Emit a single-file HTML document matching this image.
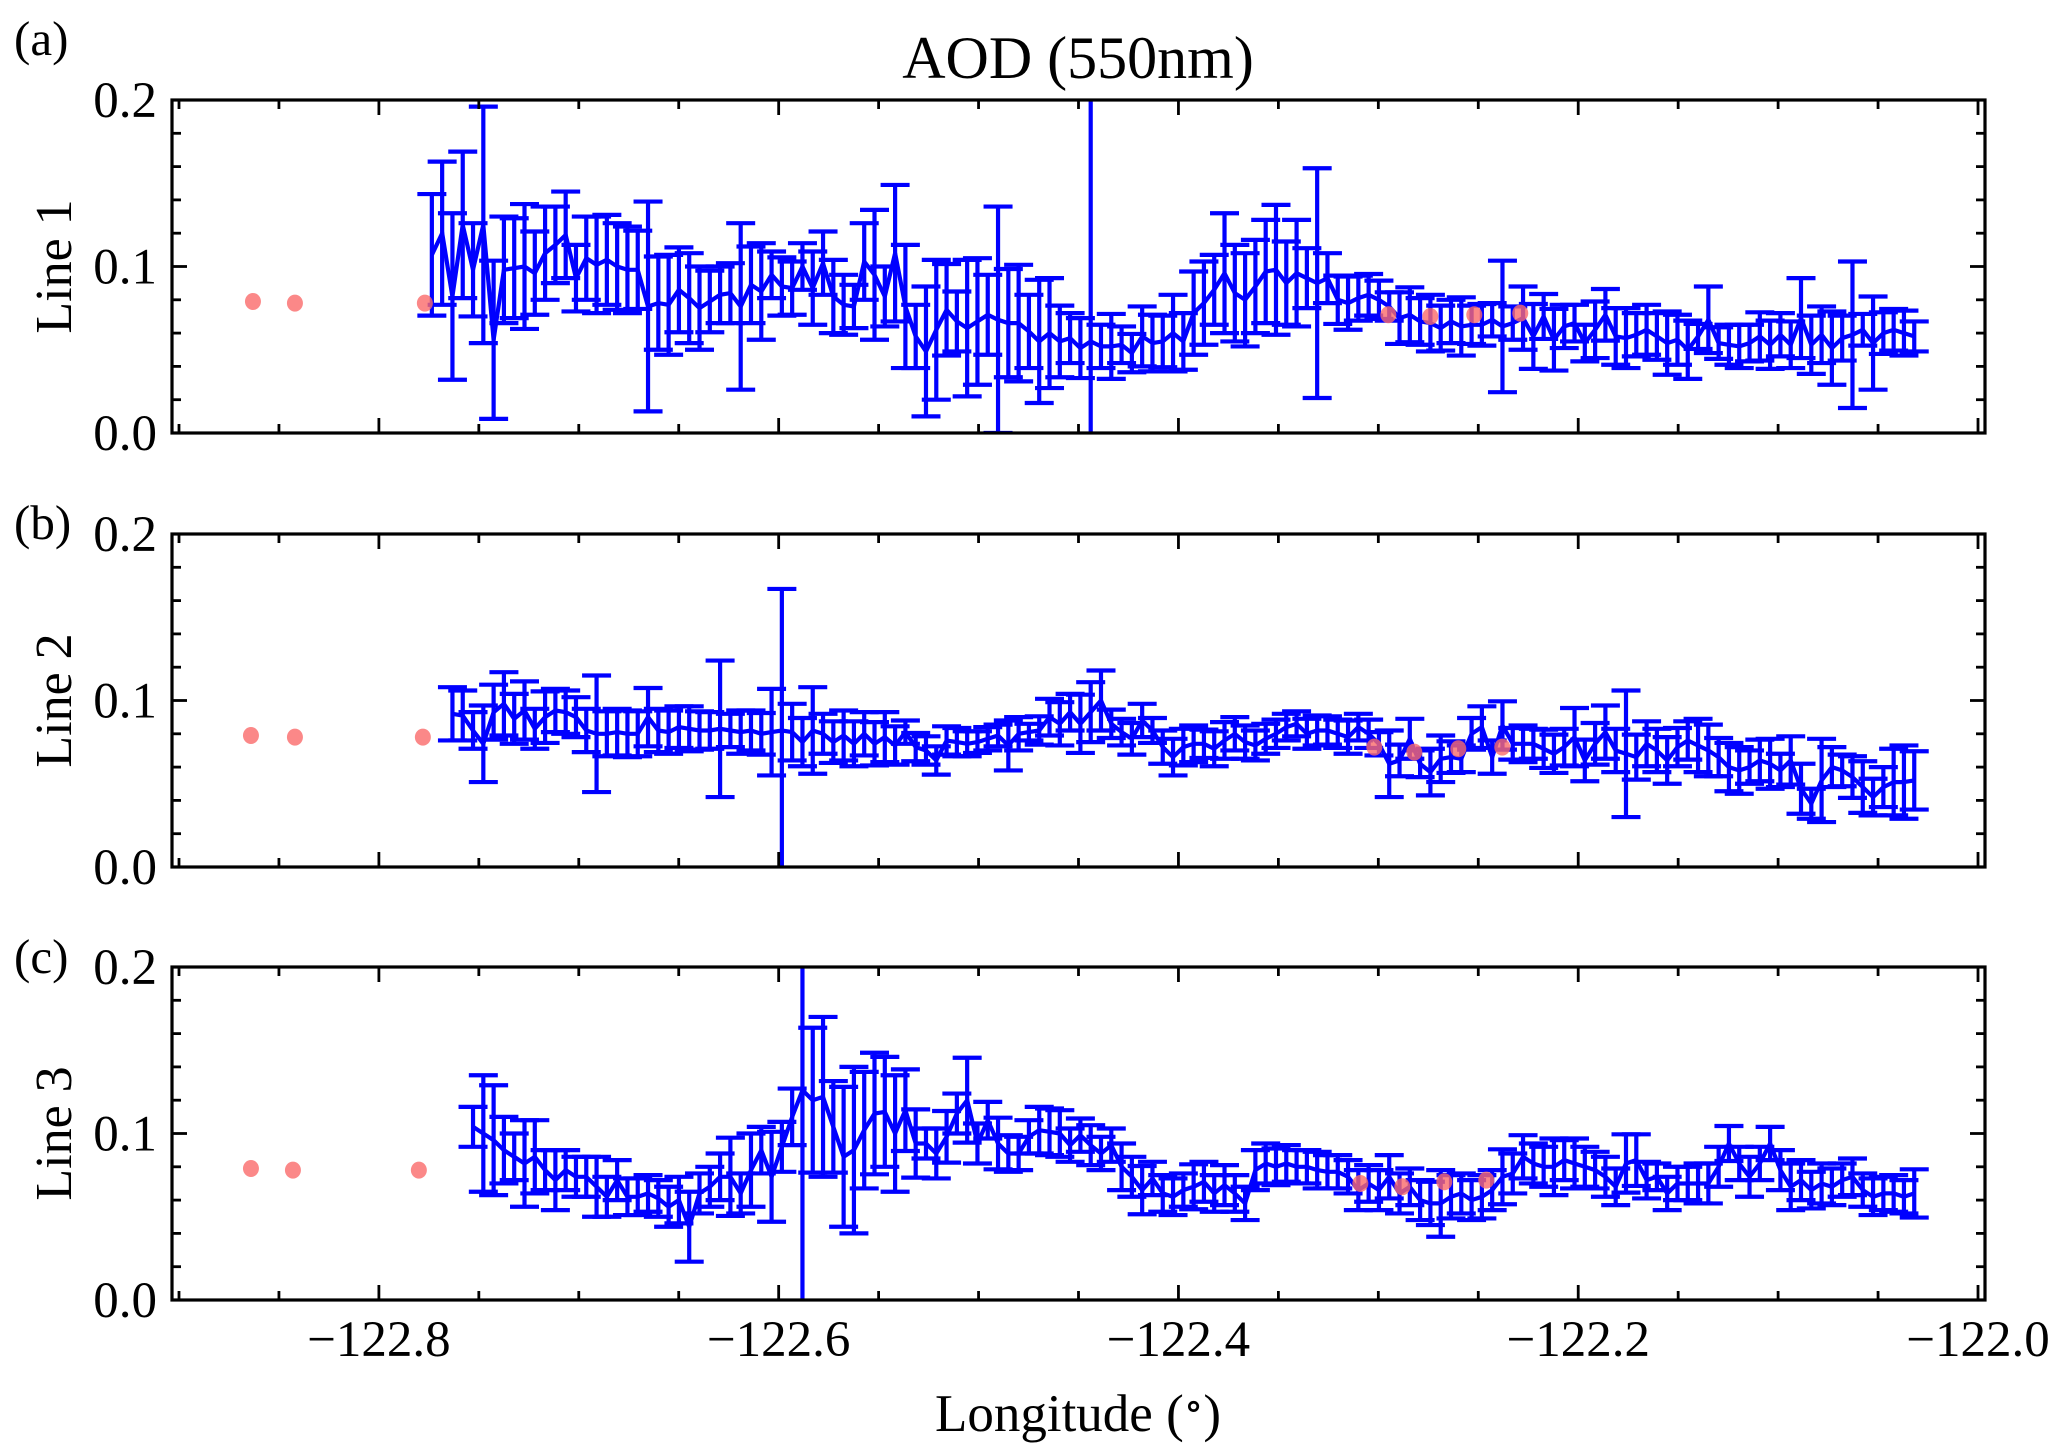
<!DOCTYPE html>
<html>
<head>
<meta charset="utf-8">
<style>
  html, body { margin: 0; padding: 0; background: #fff; }
  svg { display: block; font-family: "Liberation Serif", "DejaVu Serif", serif; }
</style>
</head>
<body>
<svg id="chart" width="2066" height="1443" viewBox="0 0 2066 1443" xmlns="http://www.w3.org/2000/svg">
  <rect x="0" y="0" width="2066" height="1443" fill="#fff"/>
  <text x="1078" y="78" font-size="60" text-anchor="middle">AOD (550nm)</text>
  <text x="1078" y="1431" font-size="53" text-anchor="middle">Longitude (<tspan font-size="40" baseline-shift="12">∘</tspan>)</text>
  <g id="panels"></g>
</svg>
<script>
// ---- data ----
const lonStart = -122.7735;
const lonStep = 0.00515;
const xTicks = [-122.8, -122.6, -122.4, -122.2, -122.0];
const xTickLabels = ["\u2212122.8", "\u2212122.6", "\u2212122.4", "\u2212122.2", "\u2212122.0"];
const yTicks = [0.0, 0.1, 0.2];
const yTickLabels = ["0.0", "0.1", "0.2"];
const panelNames = ["Line 1", "Line 2", "Line 3"];
const panelTags = ["(a)", "(b)", "(c)"];
const startIndex = [0, 2, 4];

const mean1 = [0.107,0.120,0.082,0.125,0.098,0.125,0.056,0.098,0.099,0.100,
0.096,0.108,0.113,0.119,0.093,0.105,0.101,0.104,0.100,0.098,
0.098,0.076,0.078,0.077,0.086,0.081,0.075,0.079,0.083,0.084,
0.076,0.089,0.085,0.095,0.088,0.087,0.100,0.087,0.102,0.082,
0.077,0.076,0.103,0.095,0.082,0.108,0.076,0.058,0.049,0.062,
0.074,0.067,0.063,0.067,0.071,0.068,0.066,0.066,0.061,0.055,
0.060,0.055,0.057,0.051,0.055,0.052,0.052,0.053,0.048,0.058,
0.054,0.055,0.060,0.055,0.072,
0.078,0.086,0.096,0.084,0.080,0.088,0.097,0.098,0.090,0.096,
0.093,0.090,0.093,0.080,0.078,0.081,0.083,0.080,0.076,0.069,
0.071,0.067,0.066,0.063,0.067,0.064,0.065,0.065,0.068,0.064,
0.066,0.069,0.058,0.070,0.056,0.064,0.066,0.054,0.062,0.071,
0.058,0.057,0.059,0.062,0.058,0.054,0.056,0.050,0.058,0.068,
0.054,0.053,0.052,0.054,0.058,0.053,0.059,0.053,0.069,0.053,
0.059,0.051,0.057,0.059,0.062,0.054,0.060,0.062,0.060,0.058];
const err1 = [0.0365,0.043,0.050,0.044,0.028,0.071,0.0475,0.032,0.030,0.0375,
0.025,0.028,0.023,0.026,0.020,0.025,0.029,0.027,0.026,0.026,
0.0235,0.063,0.028,0.030,0.0255,0.027,0.025,0.0185,0.017,0.018,
0.050,0.023,0.029,0.014,0.0175,0.016,0.014,0.022,0.019,0.022,
0.018,0.013,0.023,0.039,0.018,0.041,0.037,0.019,0.039,0.042,
0.0275,0.018,0.041,0.038,0.024,0.068,0.0325,0.035,0.022,0.037,
0.033,0.0215,0.015,0.018,0.16,0.013,0.0195,0.011,0.0115,0.018,
0.017,0.0155,0.023,0.017,0.025,
0.025,0.021,0.036,0.029,0.028,0.028,0.031,0.039,0.025,0.032,
0.018,0.069,0.015,0.0145,0.016,0.0135,0.0125,0.0115,0.0085,0.0155,
0.0165,0.014,0.017,0.0135,0.013,0.0175,0.0115,0.0125,0.010,0.0395,
0.010,0.019,0.0195,0.0135,0.0185,0.013,0.011,0.011,0.017,0.0155,
0.017,0.018,0.013,0.015,0.014,0.019,0.015,0.0175,0.0075,0.020,
0.0095,0.012,0.013,0.011,0.0145,0.0145,0.013,0.014,0.024,0.0175,
0.017,0.022,0.0135,0.044,0.0095,0.028,0.0125,0.0125,0.0135,0.009];

const mean2 = [0.092,0.091,0.082,0.074,0.093,0.098,0.089,0.094,0.083,0.090,
0.094,0.093,0.090,0.082,0.080,0.080,0.081,0.080,0.080,0.090,
0.082,0.081,0.084,0.083,0.082,0.082,0.083,0.082,0.081,0.082,
0.080,0.081,0.082,0.081,0.075,0.082,0.080,0.075,0.079,0.074,
0.080,0.074,0.078,0.073,0.081,0.072,0.070,0.064,0.076,0.075,
0.074,0.075,0.077,0.079,0.073,0.080,0.081,0.082,0.090,0.086,
0.093,0.086,0.093,0.100,0.086,0.081,0.077,0.088,0.082,0.072,
0.066,0.072,0.074,
0.074,0.071,0.076,0.080,0.075,0.073,0.077,0.080,0.084,0.086,
0.080,0.082,0.082,0.080,0.078,0.084,0.080,0.074,0.062,0.064,
0.077,0.062,0.057,0.065,0.066,0.065,0.080,0.084,0.066,0.085,
0.074,0.074,0.074,0.071,0.068,0.072,0.078,0.064,0.074,0.081,
0.070,0.068,0.066,0.074,0.070,0.064,0.072,0.076,0.073,0.070,
0.066,0.060,0.058,0.060,0.064,0.062,0.058,0.064,0.047,0.038,
0.052,0.060,0.058,0.054,0.048,0.042,0.048,0.051,0.051,0.052];
const err2 = [0.016,0.015,0.011,0.023,0.0165,0.019,0.015,0.0175,0.012,0.0155,
0.013,0.013,0.012,0.013,0.035,0.0135,0.014,0.014,0.0135,0.0175,
0.013,0.013,0.0125,0.0135,0.0115,0.011,0.041,0.010,0.013,0.012,
0.0125,0.026,0.085,0.017,0.0145,0.026,0.012,0.0125,0.015,0.0135,
0.013,0.013,0.015,0.0115,0.007,0.0085,0.0085,0.0085,0.0085,0.0085,
0.0075,0.0065,0.007,0.0065,0.015,0.010,0.005,0.0085,0.011,0.013,
0.011,0.0175,0.018,0.018,0.0085,0.008,0.0095,0.010,0.0075,0.010,
0.011,0.011,0.011,
0.0085,0.0105,0.011,0.010,0.010,0.009,0.009,0.0085,0.008,0.0075,
0.009,0.009,0.0085,0.0085,0.010,0.008,0.0085,0.007,0.020,0.0095,
0.012,0.008,0.014,0.014,0.0095,0.008,0.0095,0.0125,0.010,0.0145,
0.0095,0.011,0.009,0.0115,0.0115,0.011,0.0175,0.0125,0.0125,0.016,
0.013,0.038,0.0135,0.0135,0.013,0.014,0.0115,0.0115,0.016,0.0155,
0.0115,0.0145,0.014,0.010,0.0125,0.015,0.010,0.0145,0.015,0.009,
0.025,0.012,0.0095,0.0125,0.0155,0.011,0.012,0.020,0.022,0.0175];

const mean3 = [0.104,0.100,0.096,0.090,0.086,0.082,0.086,0.078,0.072,0.078,
0.074,0.074,0.068,0.062,0.072,0.062,0.062,0.064,0.061,0.056,
0.060,0.044,0.064,0.068,0.074,0.074,0.064,0.078,0.090,0.074,
0.092,0.110,0.126,0.120,0.122,0.104,0.086,0.090,0.102,0.112,
0.113,0.100,0.114,0.094,0.094,0.088,0.098,0.112,0.120,0.094,
0.108,0.094,0.088,0.088,0.098,0.102,0.101,0.100,0.093,0.099,
0.093,0.088,0.093,0.080,0.074,0.066,0.073,0.064,0.062,0.066,
0.068,
0.071,0.064,0.069,0.064,0.058,0.078,0.082,0.080,0.082,0.080,
0.080,0.078,0.077,0.077,0.074,0.066,0.070,0.066,0.074,0.064,
0.068,0.060,0.058,0.058,0.062,0.064,0.060,0.062,0.066,0.074,
0.076,0.086,0.082,0.080,0.080,0.084,0.082,0.080,0.078,0.074,
0.068,0.082,0.084,0.072,0.074,0.064,0.070,0.070,0.070,0.070,
0.080,0.094,0.082,0.074,0.082,0.094,0.078,0.068,0.072,0.066,
0.070,0.068,0.072,0.074,0.066,0.062,0.064,0.064,0.062,0.064];
const err3 = [0.012,0.035,0.033,0.02,0.014,0.026,0.022,0.012,0.018,0.012,
0.012,0.012,0.018,0.012,0.012,0.011,0.011,0.011,0.011,0.012,
0.014,0.021,0.012,0.012,0.014,0.0235,0.012,0.022,0.014,0.027,
0.015,0.017,0.13,0.0435,0.048,0.0275,0.042,0.05,0.035,0.0365,
0.033,0.035,0.0245,0.0205,0.009,0.015,0.0155,0.012,0.0255,0.012,
0.011,0.0155,0.011,0.01,0.01,0.014,0.014,0.014,0.01,0.01,
0.012,0.01,0.01,0.014,0.012,0.0145,0.01,0.011,0.011,0.01,
0.0135,
0.012,0.011,0.012,0.011,0.01,0.012,0.012,0.011,0.011,0.010,
0.010,0.011,0.010,0.010,0.010,0.012,0.011,0.012,0.013,0.012,
0.011,0.012,0.013,0.020,0.013,0.012,0.012,0.013,0.012,0.0165,
0.012,0.013,0.012,0.012,0.017,0.012,0.015,0.012,0.011,0.012,
0.011,0.0175,0.0155,0.011,0.008,0.010,0.010,0.010,0.012,0.012,
0.012,0.0105,0.010,0.012,0.010,0.010,0.012,0.014,0.012,0.011,
0.012,0.011,0.010,0.011,0.010,0.011,0.010,0.011,0.010,0.0145];

const refLon1 = [-122.863,-122.842,-122.777,-122.295,-122.274,-122.252,-122.229];
const refVal1 = [0.079,0.078,0.078,0.071,0.070,0.071,0.072];
const refLon2 = [-122.864,-122.842,-122.778,-122.302,-122.282,-122.260,-122.238];
const refVal2 = [0.079,0.078,0.078,0.072,0.069,0.071,0.072];
const refLon3 = [-122.864,-122.843,-122.780,-122.309,-122.288,-122.267,-122.246];
const refVal3 = [0.079,0.078,0.078,0.070,0.068,0.071,0.072];

// ---- layout ----
const NS = "http://www.w3.org/2000/svg";
const plotLeft = 172, plotRight = 1985;
const lonMin = -122.9035, lonMax = -121.9965;
const panelTops = [100, 534, 967];
const panelH = 333;
const yMin = 0, yMax = 0.2;
function xScale(lon) { return plotLeft + (lon - lonMin) / (lonMax - lonMin) * (plotRight - plotLeft); }
function yScale(v, top) { return top + panelH - (v - yMin) / (yMax - yMin) * panelH; }

const means = [mean1, mean2, mean3];
const errs = [err1, err2, err3];
const refLons = [refLon1, refLon2, refLon3];
const refVals = [refVal1, refVal2, refVal3];

function mk(tag, attrs, parent) {
  const e = document.createElementNS(NS, tag);
  for (const k in attrs) e.setAttribute(k, attrs[k]);
  parent.appendChild(e);
  return e;
}

const root = document.getElementById("panels");
for (let p = 0; p < 3; p++) {
  const top = panelTops[p], bottom = top + panelH;
  const g = mk("g", {}, root);
  
  

  const cp = mk("clipPath", {id: "clip" + p}, g);
  mk("rect", {x: plotLeft, y: top, width: plotRight - plotLeft, height: panelH}, cp);

  const eg = mk("g", {"clip-path": "url(#clip" + p + ")", stroke: "#0000ff", "stroke-width": 4.2, fill: "none"}, g);
  
  
  const m = means[p], er = errs[p];
  const n = Math.min(m.length, er.length);
  let pts = [];
  for (let k = 0; k < n; k++) {
    const lon = lonStart + (startIndex[p] + k) * lonStep;
    const x = xScale(lon);
    const y0 = yScale(m[k] - er[k], top), y1 = yScale(m[k] + er[k], top);
    const bar = mk("path", {d: `M${x},${y0}V${y1}M${x-14.5},${y0}H${x+14.5}M${x-14.5},${y1}H${x+14.5}`}, eg);
    
    
    pts.push(x.toFixed(1) + "," + yScale(m[k], top).toFixed(1));
  }
  const line = mk("polyline", {points: pts.join(" "), stroke: "#0000ff", "stroke-width": 4.2, fill: "none", "stroke-linejoin": "miter", "clip-path": "url(#clip" + p + ")"}, g);
  
  

  const rl = refLons[p], rv = refVals[p];
  for (let k = 0; k < rl.length; k++) {
    const c = mk("ellipse", {cx: xScale(rl[k]), cy: yScale(rv[k], top), rx: 8, ry: 8.5, fill: "#fa6a6a", "fill-opacity": 0.8}, g);
    
    
  }

  const tg = mk("g", {stroke: "#000", "stroke-width": 2.8}, g);
  
  
  for (let t = -122.9; t <= -121.99; t += 0.05) {
    const tv = Math.round(t * 100) / 100;
    if (tv < lonMin || tv > lonMax) continue;
    const x = xScale(tv);
    const major = Math.abs(Math.round(tv * 5) - tv * 5) < 1e-6;
    const L = major ? 15 : 9;
    mk("line", {x1: x, y1: bottom, x2: x, y2: bottom - L}, tg);
    mk("line", {x1: x, y1: top, x2: x, y2: top + L}, tg);
  }
  for (let t = 0; t <= 0.2001; t += 0.02) {
    const y = yScale(t, top);
    const major = Math.abs(Math.round(t * 10) - t * 10) < 1e-6;
    const L = major ? 15 : 9;
    mk("line", {x1: plotLeft, y1: y, x2: plotLeft + L, y2: y}, tg);
    mk("line", {x1: plotRight, y1: y, x2: plotRight - L, y2: y}, tg);
  }

  const fr = mk("rect", {x: plotLeft, y: top, width: plotRight - plotLeft, height: panelH, fill: "none", stroke: "#000", "stroke-width": 3.2}, g);
  
  

  for (let k = 0; k < yTicks.length; k++) {
    const tx = mk("text", {x: 157, y: yScale(yTicks[k], top) + 17, "font-size": 51, "text-anchor": "end"}, g);
    tx.textContent = yTickLabels[k];
    
    
  }
  const cy = top + panelH / 2;
  const yt = mk("text", {x: 0, y: 0, "font-size": 52, "text-anchor": "middle", transform: `translate(71,${cy}) rotate(-90)`}, g);
  yt.textContent = panelNames[p];
  
  
  const tagY = [55, 539, 973][p];
  const tag = mk("text", {x: 14, y: tagY, "font-size": 49}, g);
  tag.textContent = panelTags[p];
  
  
}

const xl = mk("g", {}, root);


for (let k = 0; k < xTicks.length; k++) {
  const t = mk("text", {x: xScale(xTicks[k]), y: 1356, "font-size": 51, "text-anchor": "middle"}, xl);
  t.textContent = xTickLabels[k];
  
  
}
</script>
</body>
</html>
